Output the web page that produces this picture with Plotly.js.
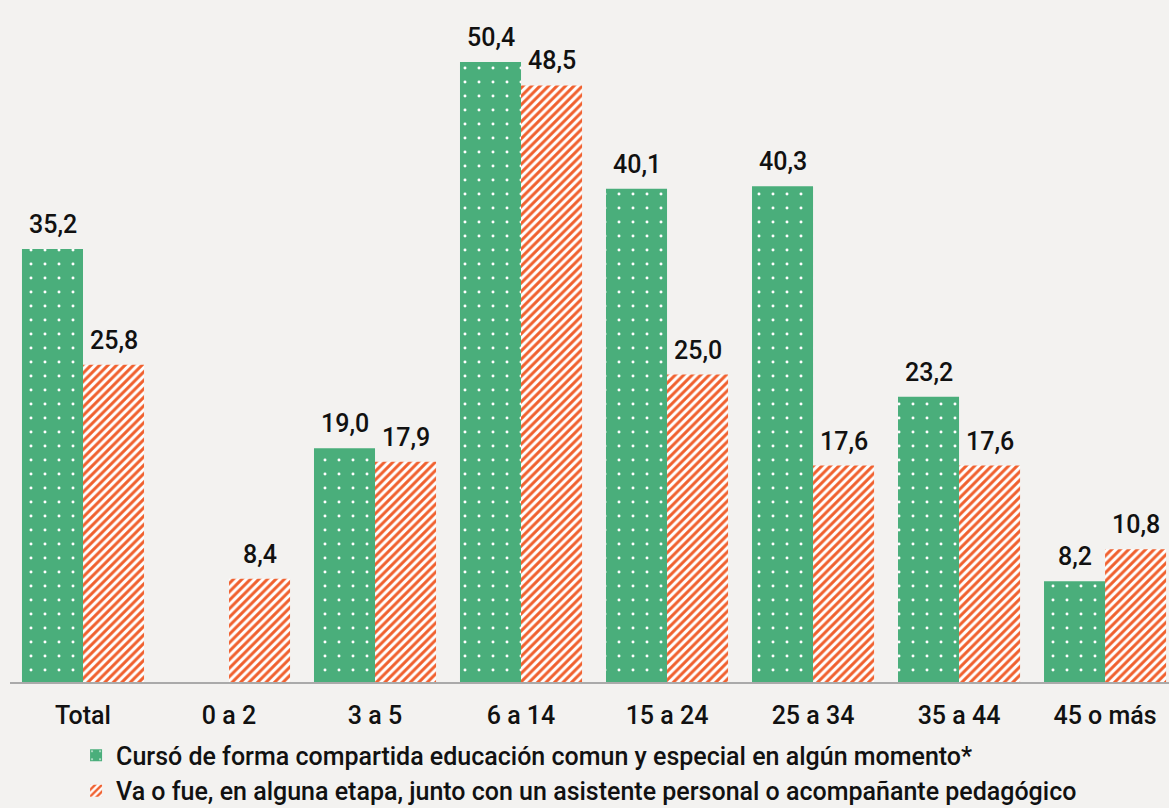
<!DOCTYPE html>
<html><head><meta charset="utf-8">
<script src="https://cdn.plot.ly/plotly-3.0.1.min.js"></script>
<style>body{margin:0;background:#f3f2f0}</style>
</head><body>
<div id="chart" style="width:1169px;height:808px"></div>
<script>
const categories = ["Total","0 a 2","3 a 5","6 a 14","15 a 24","25 a 34","35 a 44","45 o más"];
const cursoCompartida = [35.2, null, 19.0, 50.4, 40.1, 40.3, 23.2, 8.2];
const asistentePersonal = [25.8, 8.4, 17.9, 48.5, 25.0, 17.6, 17.6, 10.8];
const seriesNames = [
  "Cursó de forma compartida educación comun y especial en algún momento*",
  "Va o fue, en alguna etapa, junto con un asistente personal o acompañante pedagógico"
];
const fmt = v => v.toFixed(1).replace(".", ",");
const labelFont = {family: "Roboto, sans-serif", size: 25, color: "#111", weight: 500};
const traces = [
  {type:"bar", x:categories, y:cursoCompartida, name:seriesNames[0],
   marker:{color:"#4aae7b", line:{width:0}, pattern:{shape:".", fgcolor:"#ffffff", bgcolor:"#4aae7b", size:14, solidity:0.035}}},
  {type:"bar", x:categories, y:asistentePersonal, name:seriesNames[1],
   marker:{color:"#f0602e", line:{width:0}, pattern:{shape:"/", fgcolor:"#f0602e", bgcolor:"#ffffff", size:6, solidity:0.5}}}
];
const annotations = [];
[cursoCompartida, asistentePersonal].forEach((vals, s) => {
  vals.forEach((v, i) => {
    if (v == null) return;
    annotations.push({x: categories[i], y: v, xref:"x", yref:"y", text: fmt(v), showarrow:false,
      xshift: s === 0 ? -30.5 : 30.5, yanchor:"bottom", yshift: 8, font: labelFont});
  });
});
const layout = {
  width:1169, height:808,
  paper_bgcolor:"#f3f2f0", plot_bgcolor:"#f3f2f0",
  margin:{l:10, r:0, t:5, b:126, autoexpand:false},
  barmode:"group", bargap:0.164, bargroupgap:0,
  showlegend:true,
  legend:{orientation:"v", x:0.057, xanchor:"left", y:-0.0745, yanchor:"top",
          font:{family:"Roboto, sans-serif", size:25, color:"#111", weight:500}, bgcolor:"rgba(0,0,0,0)",
          tracegroupgap:0, itemwidth:30},
  annotations: annotations,
  xaxis:{range:[-0.5, 7.438], showline:true, linecolor:"#aaaaaa", linewidth:1.5, ticks:"", ticklabelstandoff:10,
         tickfont:{family:"Roboto, sans-serif", size:25, color:"#111", weight:500}, fixedrange:true},
  yaxis:{range:[0, 55.04], visible:false, showgrid:false, zeroline:false, fixedrange:true},
  font:{family:"Roboto, sans-serif"}
};
Plotly.newPlot("chart", traces, layout, {displayModeBar:false, staticPlot:true});
</script>
</body></html>
